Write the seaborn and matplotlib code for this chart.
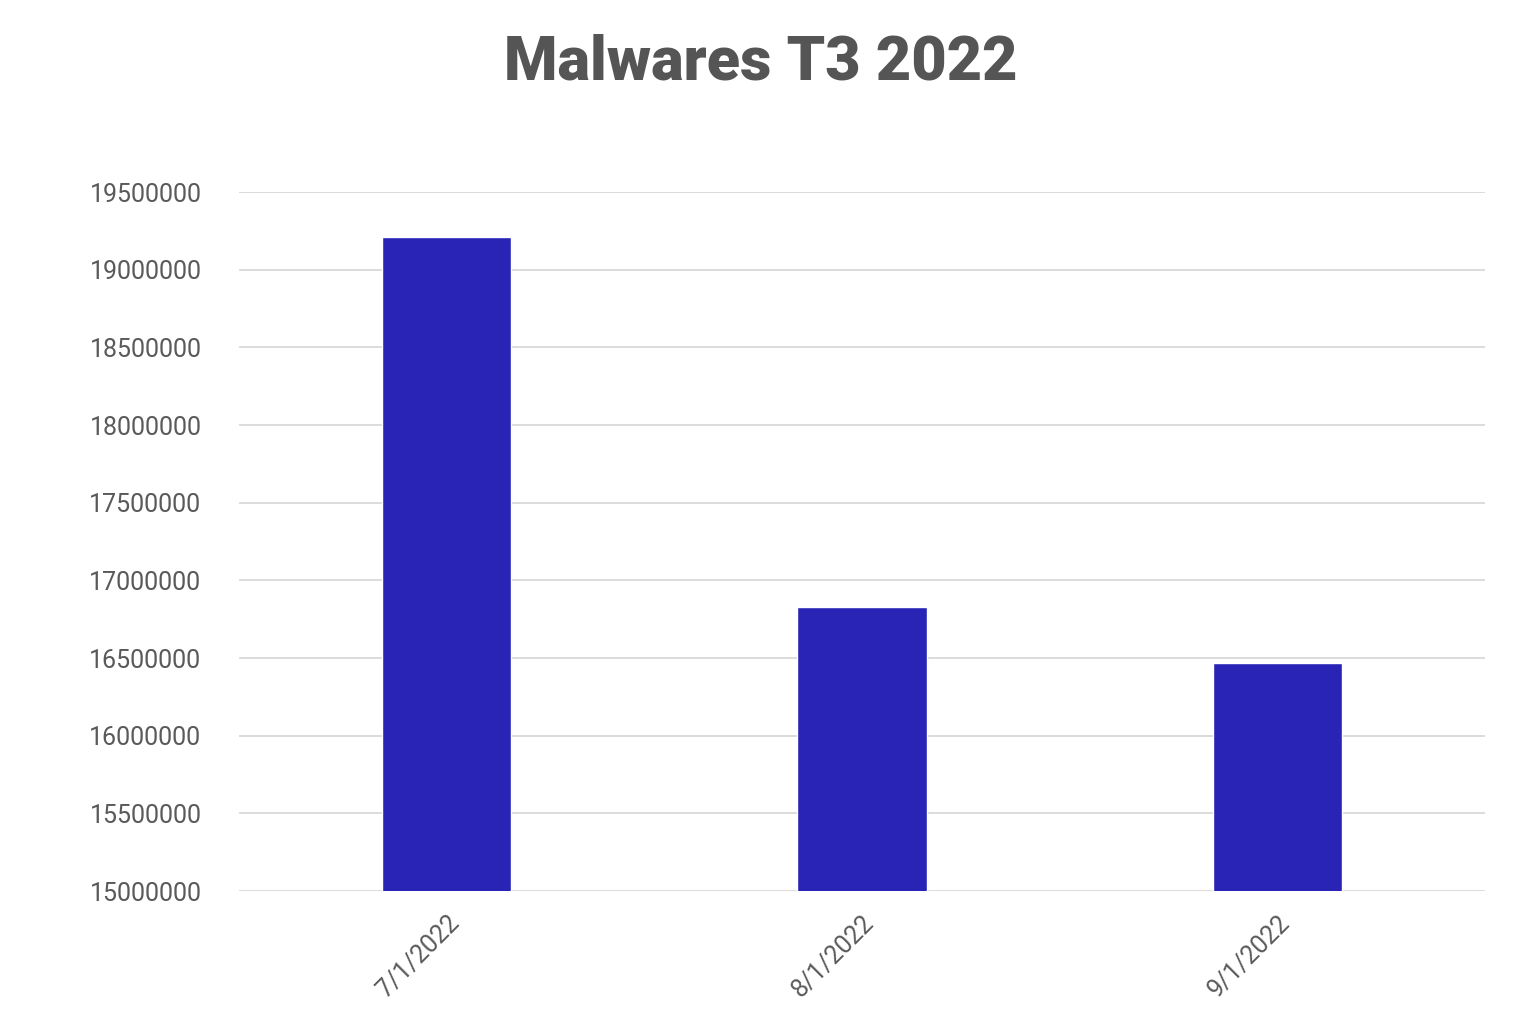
import seaborn as sns
import matplotlib
matplotlib.use("Agg")
import matplotlib.pyplot as plt
import pandas as pd

#dados do gráfico
datas = ["7/1/2022", "8/1/2022", "9/1/2022"]
malwares = [19211000, 16829000, 16468000]
y_ticks = [15000000, 15500000, 16000000, 16500000, 17000000,
           17500000, 18000000, 18500000, 19000000, 19500000]

df = pd.DataFrame({"data": datas, "malwares": malwares})

sns.set_style("white")
plt.rcParams['font.family'] = ['Roboto', 'DejaVu Sans']

fig = plt.figure(figsize=(15.22, 10.16), dpi=100)
ax = fig.add_axes([0.157, 0.123, 0.8187, 0.688])

sns.barplot(data=df, x="data", y="malwares", color="#2924B6",
            saturation=1, width=0.312, ax=ax)

ax.set_ylim(15000000, 19500000)
ax.set_xlim(-0.5, 2.5)
ax.set_yticks(y_ticks)
ax.set_yticklabels([str(v) for v in y_ticks])
ax.yaxis.grid(True, color="#d9d9d9", linewidth=1.3)
ax.set_axisbelow(True)
for s in ax.spines.values():
    s.set_visible(False)
ax.tick_params(axis="both", length=0, labelsize=18, labelcolor="#5a5a5a")
ax.tick_params(axis="y", pad=27)
ax.tick_params(axis="x", pad=14)
plt.setp(ax.get_xticklabels(), rotation=45, ha="right", rotation_mode="anchor")
ax.set_xlabel("")
ax.set_ylabel("")

fig.suptitle("Malwares T3 2022", fontsize=44, fontweight="black",
             color="#555555", y=0.967)

fig.savefig("out.png", dpi=100)
